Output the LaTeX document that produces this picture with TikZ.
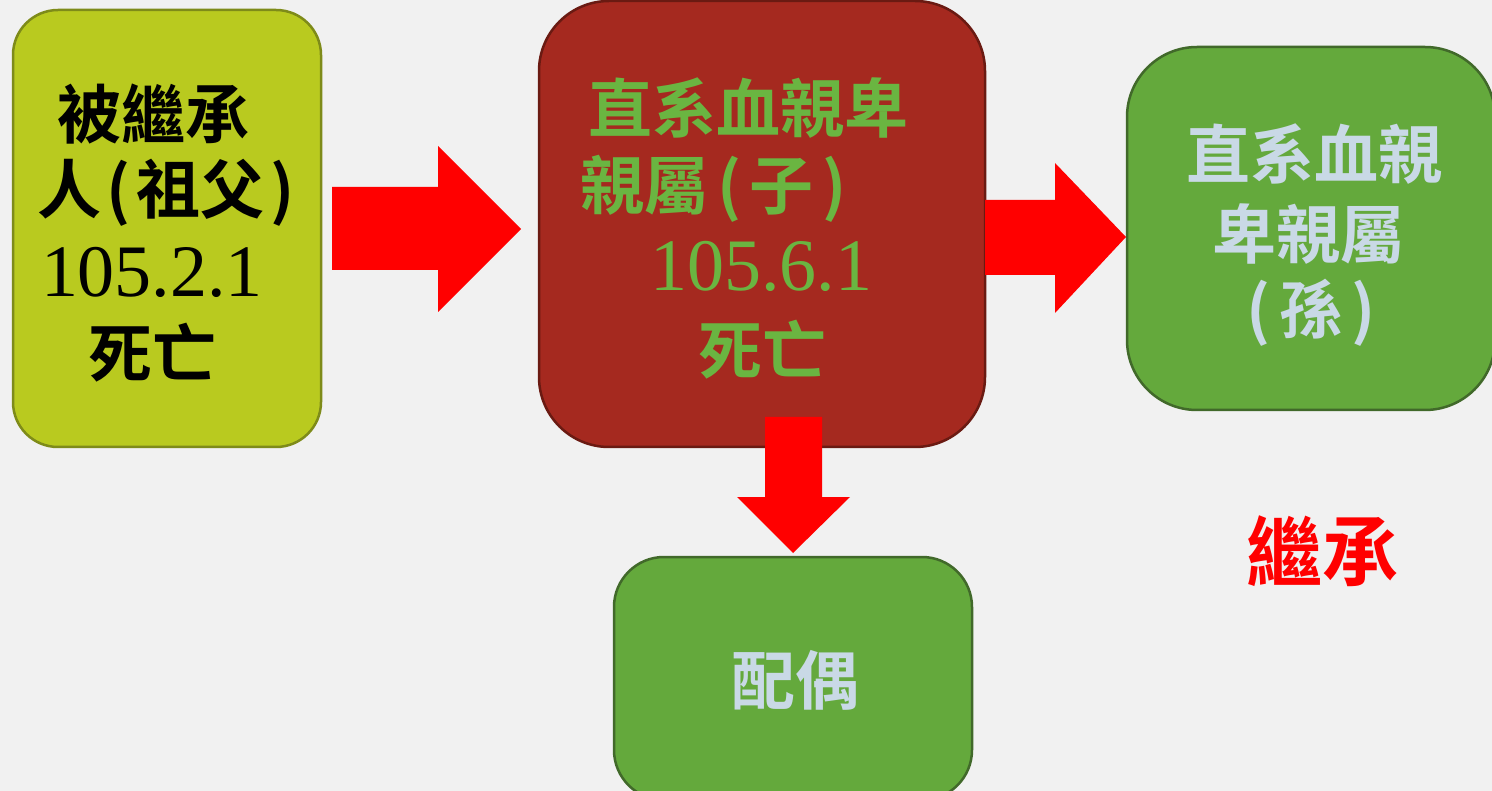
\documentclass[tikz,border=0pt]{standalone}
\usepackage{fontspec}
\newfontfamily\cjk{Noto Sans CJK TC}[BoldFont={Noto Sans CJK TC Bold}]
\setmainfont{Liberation Serif}
\definecolor{bgc}{HTML}{F1F1F1}
\definecolor{limefill}{HTML}{B9CA1F}
\definecolor{limeline}{HTML}{7E8B19}
\definecolor{redfill}{HTML}{A5291F}
\definecolor{redline}{HTML}{6A1A12}
\definecolor{grnfill}{HTML}{64A93C}
\definecolor{grnline}{HTML}{41692A}
\definecolor{txtgreen}{HTML}{6AB541}
\definecolor{txtlight}{HTML}{C9D9E6}
\definecolor{arrowred}{HTML}{FF0000}
\begin{document}
\begin{tikzpicture}[x=1pt,y=-1pt,
  boxst/.style={draw, line width=2.5pt, inner sep=0pt},
  cj/.style={inner sep=0pt, anchor=center, font=\cjk\bfseries\fontsize{64}{64}\selectfont},
  num/.style={inner sep=0pt, anchor=center, font=\fontsize{74}{74}\selectfont},
  blockarrow/.style={fill=arrowred, draw=none}]
\useasboundingbox (0,0) rectangle (1492,791);
\fill[bgc] (0,0) rectangle (1492,791);
% boxes
\node[boxst, fill=limefill, draw=limeline, rounded corners=45pt,
  minimum width=308pt, minimum height=437pt] (b1) at (167,228.5) {};
\node[boxst, fill=redfill, draw=redline, rounded corners=70pt,
  minimum width=446pt, minimum height=446pt] (b2) at (762,224) {};
\node[boxst, fill=grnfill, draw=grnline, rounded corners=70pt,
  minimum width=368pt, minimum height=363pt] (b3) at (1311,228.5) {};
\node[boxst, fill=grnfill, draw=grnline, rounded corners=50pt,
  minimum width=358pt, minimum height=243pt] (b4) at (793,678.5) {};
% block arrows
\fill[blockarrow] (332,187) -- (438,187) -- (438,146) -- (521,229) -- (438,312) -- (438,270) -- (332,270) -- cycle;
\fill[blockarrow] (985,200) -- (1055,200) -- (1055,163) -- (1126,237) -- (1055,313) -- (1055,275) -- (985,275) -- cycle;
\fill[blockarrow] (765,417) -- (822,417) -- (822,497) -- (850,497) -- (793,553) -- (737,497) -- (765,497) -- cycle;
% box 1 text
\node[cj, text=black] (t1a) at (153,114) {被繼承};
\node[cj, text=black, anchor=west] (t1b) at (37,193) {人\hspace{5pt}(\hspace{6pt}祖父\hspace{6pt})};
\node[num, text=black] (t1c) at (152,272) {105.2.1};
\node[cj, text=black] (t1d) at (152,353) {死亡};
% box 2 text
\node[cj, text=txtgreen] (t2a) at (748,108) {直系血親卑};
\node[cj, text=txtgreen, anchor=west] (t2b) at (580,189) {親屬\hspace{9pt}(\hspace{8pt}子\hspace{9pt})};
\node[num, text=txtgreen] (t2c) at (761,266) {105.6.1};
\node[cj, text=txtgreen] (t2d) at (762,350) {死亡};
% box 3 text
\node[cj, text=txtlight] (t3a) at (1314,154) {直系血親};
\node[cj, text=txtlight] (t3b) at (1308,234) {卑親屬};
\node[cj, text=txtlight] (t3c) at (1311,313) {(\hspace{8pt}孫\hspace{8pt})};
% box 4 text
\node[cj, text=txtlight] (t4) at (795,680) {配偶};
% legend
\node[cj, text=arrowred, font=\cjk\bfseries\fontsize{76}{76}\selectfont] (lg) at (1322,551) {繼承};
\end{tikzpicture}
\end{document}
